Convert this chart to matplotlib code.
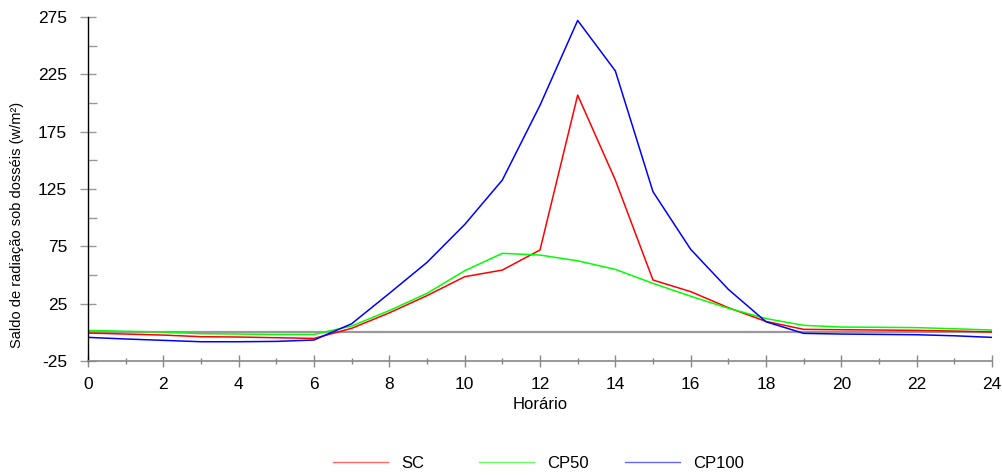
import numpy as np
import matplotlib.pyplot as plt
from matplotlib.lines import Line2D

plt.rcParams['font.family'] = ['Liberation Sans', 'DejaVu Sans']
plt.rcParams['axes.unicode_minus'] = False

# saldo de radiação (w/m²) por hora do dia
horas = list(range(0, 25))
sc = [-0.6, -1.5, -2.4, -3.8, -4.1, -4.7, -5.3, 3.5, 17.0, 32.0, 48.5, 54.3, 71.8,
      206.9, 132.8, 45.6, 35.5, 21.5, 9.5, 2.6, 2.3, 2.0, 1.7, 1.1, 0.3]
cp50 = [1.7, 0.9, 0.3, -1.2, -1.5, -1.8, -1.8, 5.5, 19.0, 34.0, 53.7, 68.9, 67.4,
        62.4, 54.9, 42.7, 31.5, 21.0, 12.0, 6.1, 4.6, 4.4, 4.1, 3.1, 2.0]
cp100 = [-4.4, -5.8, -7.0, -8.2, -8.2, -7.9, -6.7, 7.5, 34.0, 61.0, 94.0, 132.8, 198.0,
         272.0, 228.0, 122.6, 72.4, 37.5, 9.2, -0.9, -1.5, -1.8, -2.1, -3.0, -4.4]

series = [("SC", sc, "#ff0000"), ("CP50", cp50, "#00ff00"), ("CP100", cp100, "#0000ff")]

fig = plt.figure(figsize=(10.02, 4.75), dpi=100)
ax = fig.add_axes([88 / 1002, 1 - 361 / 475, 904 / 1002, 344 / 475])

ax.axhline(0, color="#999999", lw=1.6, zorder=1)
for nome, vals, cor in series:
    ax.plot(horas, vals, color=cor, lw=1.1, zorder=2)

ax.set_xlim(0, 24)
ax.set_ylim(-25, 275)
ax.set_xticks(np.arange(0, 25, 2))
ax.set_xticks(np.arange(1, 24, 2), minor=True)
ax.set_yticks(np.arange(-25, 276, 50))
ax.set_yticks(np.arange(0, 276, 50), minor=True)

for s in ["top", "right"]:
    ax.spines[s].set_visible(False)
ax.spines["left"].set_color("black")
ax.spines["left"].set_linewidth(1.0)
ax.spines["bottom"].set_color("#888888")
ax.spines["bottom"].set_linewidth(1.2)

ax.tick_params(axis="y", which="major", direction="inout", length=12, width=1,
               color="#999999", labelsize=12.5, pad=9)
ax.tick_params(axis="y", which="minor", direction="in", length=6.5, width=1,
               color="#999999")
ax.tick_params(axis="x", which="major", direction="inout", length=9, width=1,
               color="#888888", labelsize=12.5, pad=7)
ax.tick_params(axis="x", which="minor", direction="inout", length=5, width=1,
               color="#888888")

ax.set_xlabel("Horário", fontsize=12)
ax.xaxis.set_label_coords(0.5, -36 / 344)
ax.set_ylabel("Saldo de radiação sob dosséis (w/m²)", fontsize=10.5)
ax.yaxis.set_label_coords(-64 / 904, 0.395)

# legenda com colunas de largura fixa
for i, (nome, vals, cor) in enumerate(series):
    h = Line2D([], [], color=cor, lw=1.0, alpha=0.6)
    fig.legend([h], [nome], loc="center left",
               bbox_to_anchor=((318 + 146 * i) / 1002, 1 - 463 / 475),
               frameon=False, fontsize=12, handlelength=3.3, handletextpad=0.8)

fig.savefig("out.png", dpi=100)
